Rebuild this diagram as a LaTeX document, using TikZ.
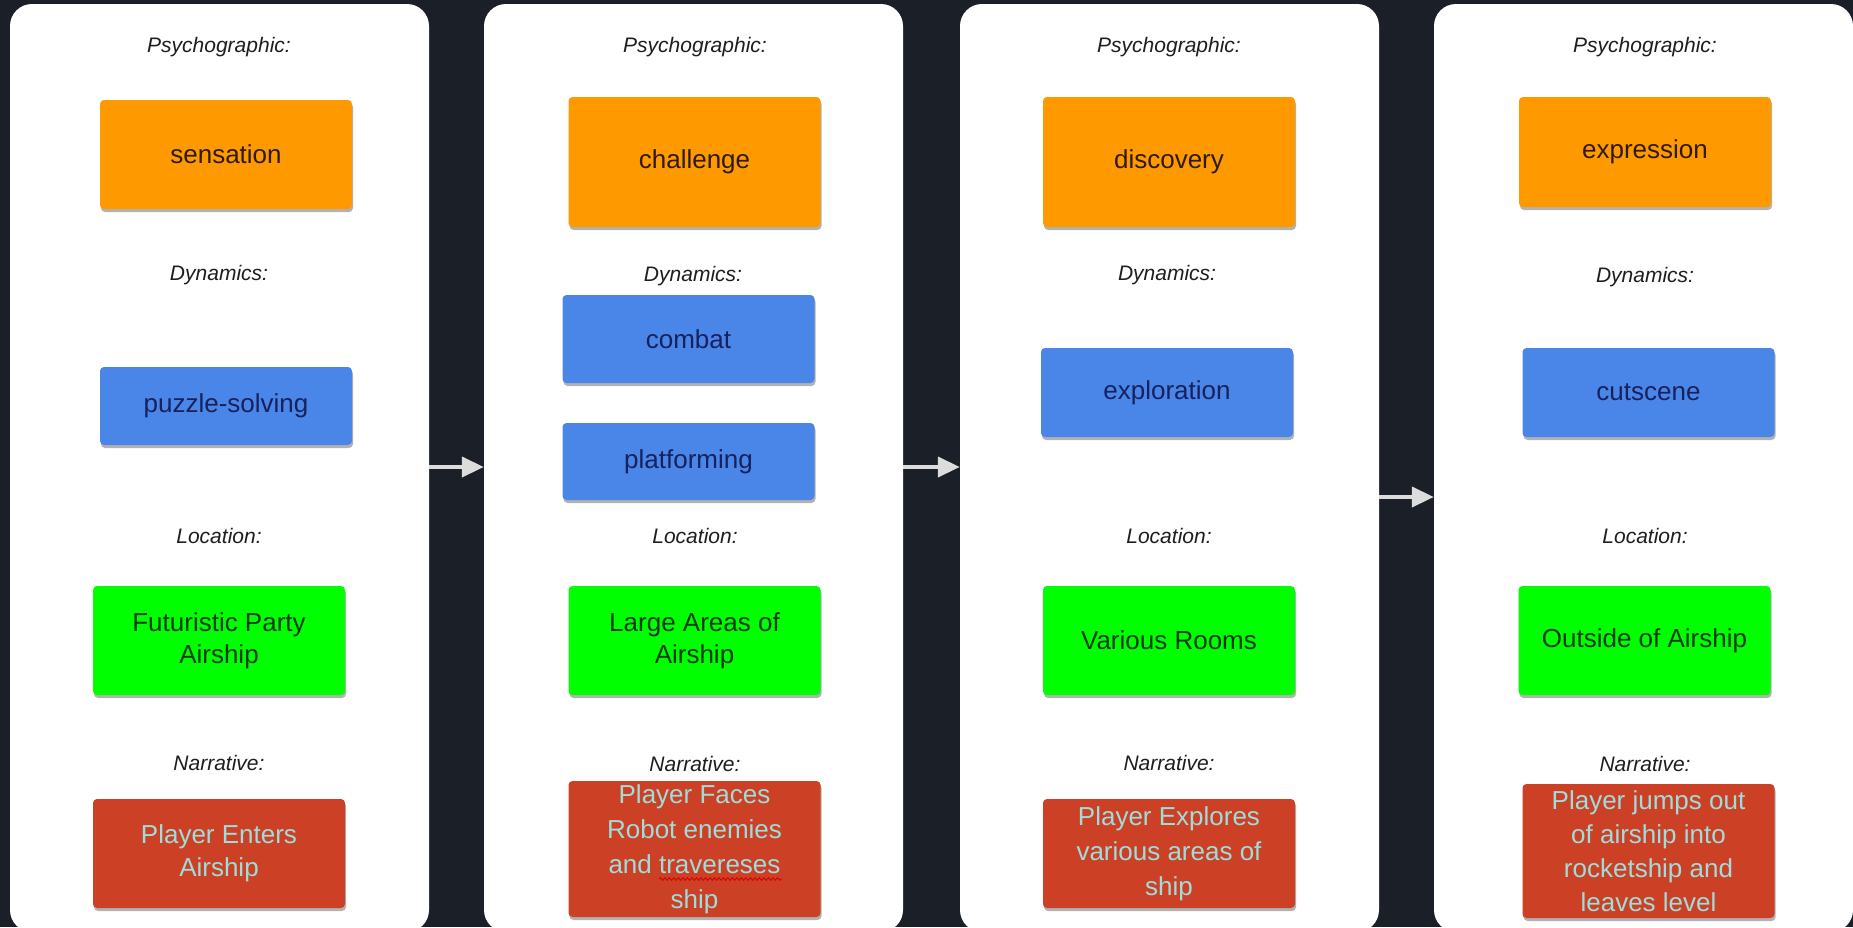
\documentclass[tikz,border=0pt]{standalone}
\usepackage{fontspec}
\setmainfont{Liberation Sans}
\usetikzlibrary{shadows,arrows.meta,calc,decorations.pathmorphing}
\definecolor{bgc}{HTML}{1B1F27}
\definecolor{psyc}{HTML}{FF9900}
\definecolor{psyt}{HTML}{2E1A0E}
\definecolor{dync}{HTML}{4A86E8}
\definecolor{dynt}{HTML}{16215E}
\definecolor{locc}{HTML}{00FF00}
\definecolor{loct}{HTML}{0C3A10}
\definecolor{narc}{HTML}{CC4125}
\definecolor{nart}{HTML}{9FDCDA}
\definecolor{lblc}{HTML}{1E1E1E}
\definecolor{arrc}{HTML}{DCDCDC}
\begin{document}
\begin{tikzpicture}[x=1pt,y=-1pt,
  panel/.style={fill=white, rounded corners=22pt, minimum width=419pt, minimum height=928pt, inner sep=0pt},
  lbl/.style={font=\fontsize{21}{25}\selectfont\itshape, text=lblc, inner sep=0pt},
  box/.style={rounded corners=4pt, inner sep=0pt, align=center, minimum width=252pt,
    font=\fontsize{26}{34}\selectfont,
    drop shadow={shadow xshift=1pt, shadow yshift=-3pt, opacity=0.3, fill=black}},
  psy/.style={box, fill=psyc, text=psyt},
  dyn/.style={box, fill=dync, text=dynt},
  loc/.style={box, fill=locc, text=loct},
  nar/.style={box, fill=narc, text=nart},
  arr/.style={draw=arrc, line width=4pt, -{Triangle[length=22pt,width=20pt]}}
]
\useasboundingbox (0,0) rectangle (1853,927);
\clip (0,0) rectangle (1853,927);
\fill[bgc] (0,0) rectangle (1853,927);

% panels
\node[panel] (p1) at (219.5,468) {};
\node[panel] (p2) at (693.5,468) {};
\node[panel] (p3) at (1169.5,468) {};
\node[panel] (p4) at (1643.5,468) {};

% panel 1
\node[lbl] (l1a) at (219,47) {Psychographic:};
\node[psy, minimum height=109pt] (o1) at (226,154.5) {sensation};
\node[lbl] (l1b) at (219,275) {Dynamics:};
\node[dyn, minimum height=78pt] (b1) at (226,406) {puzzle-solving};
\node[lbl] (l1c) at (219,536) {Location:};
\node[loc, minimum height=109pt, font=\fontsize{26}{32}\selectfont] (g1) at (219,640.5) {Futuristic Party\\Airship};
\node[lbl] (l1d) at (219,763) {Narrative:};
\node[nar, minimum height=109pt, font=\fontsize{26}{33}\selectfont] (r1) at (219,853.5) {Player Enters\\Airship};

% panel 2
\node[lbl] (l2a) at (695,47) {Psychographic:};
\node[psy, minimum height=130pt] (o2) at (694.5,162) {challenge};
\node[lbl] (l2b) at (693,276) {Dynamics:};
\node[dyn, minimum height=88pt] (b2) at (688.5,339) {combat};
\node[dyn, minimum height=77pt] (b2b) at (688.5,461.5) {platforming};
\node[lbl] (l2c) at (695,536) {Location:};
\node[loc, minimum height=109pt, font=\fontsize{26}{32}\selectfont] (g2) at (694.5,640.5) {Large Areas of\\Airship};
\node[lbl] (l2d) at (695,764) {Narrative:};
\node[nar, minimum height=136pt, font=\fontsize{26}{35}\selectfont] (r2) at (694.5,849) {Player Faces\\Robot enemies\\and travereses\\ship};
\draw[red!85!black, line width=0.9pt, decorate, decoration={snake, amplitude=1.3pt, segment length=4.5pt}]
  ($(r2.center)+(-35.5,30)$) -- ($(r2.center)+(87.5,30)$);

% panel 3
\node[lbl] (l3a) at (1169,47) {Psychographic:};
\node[psy, minimum height=130pt] (o3) at (1169,162) {discovery};
\node[lbl] (l3b) at (1167,275) {Dynamics:};
\node[dyn, minimum height=89pt] (b3) at (1167,392.5) {exploration};
\node[lbl] (l3c) at (1169,536) {Location:};
\node[loc, minimum height=109pt] (g3) at (1169,640.5) {Various Rooms};
\node[lbl] (l3d) at (1169,763) {Narrative:};
\node[nar, minimum height=109pt, font=\fontsize{26}{35}\selectfont] (r3) at (1169,853.5) {Player Explores\\various areas of\\ship};

% panel 4
\node[lbl] (l4a) at (1645,47) {Psychographic:};
\node[psy, minimum height=110pt] (o4) at (1645,152) {expression};
\node[lbl] (l4b) at (1645,277) {Dynamics:};
\node[dyn, minimum height=89pt] (b4) at (1648.5,392.5) {cutscene};
\node[lbl] (l4c) at (1645,536) {Location:};
\node[loc, minimum height=109pt] (g4) at (1644.5,640.5) {Outside of Airship};
\node[lbl] (l4d) at (1645,764) {Narrative:};
\node[nar, minimum height=134pt, font=\fontsize{26}{34}\selectfont] (r4) at (1648.5,851) {Player jumps out\\of airship into\\rocketship and\\leaves level};

% arrows
\draw[arr] ([yshift=1pt]p1.east) -- ([yshift=1pt]p2.west);
\draw[arr] ([yshift=1pt]p2.east) -- ([yshift=1pt]p3.west);
\draw[arr] ([yshift=-29pt]p3.east) -- ([yshift=-29pt]p4.west);
\end{tikzpicture}
\end{document}
